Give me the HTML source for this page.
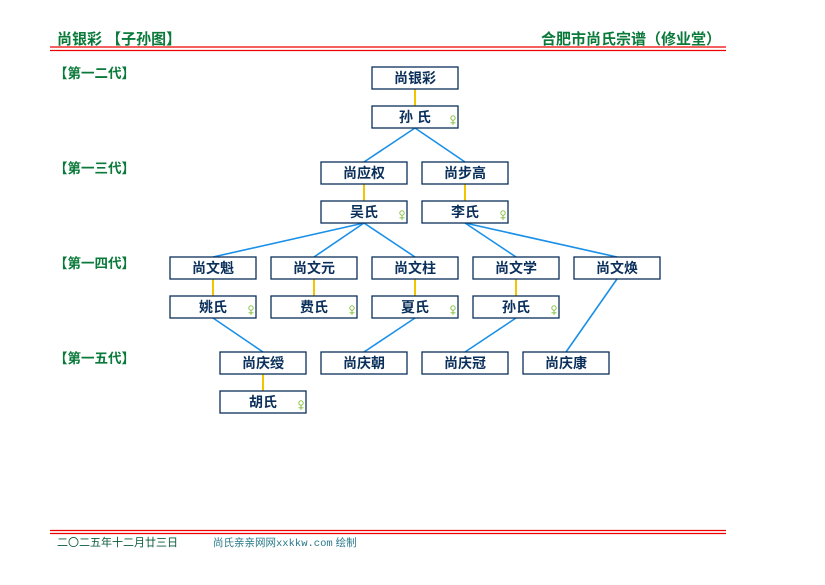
<!DOCTYPE html>
<html><head><meta charset="utf-8"><style>
html,body{margin:0;padding:0;background:#fff;}
svg text{font-family:"Liberation Sans","Noto Sans CJK SC","WenQuanYi Zen Hei",sans-serif;}
</style></head><body>
<svg width="825" height="580" xmlns="http://www.w3.org/2000/svg">
<defs>
<g id="f" stroke="#8bc34a" stroke-width="1" fill="none">
<circle cx="0" cy="-4" r="2.2"/>
<line x1="0" y1="-1.8" x2="0" y2="3"/>
<line x1="-2.5" y1="0.8" x2="2.5" y2="0.8"/>
</g>
</defs>
<text x="57" y="44" font-size="15" font-weight="bold" fill="#0a7a3a">尚银彩 【子孙图】</text>
<text x="721" y="44" font-size="15" font-weight="bold" fill="#0a7a3a" text-anchor="end">合肥市尚氏宗谱（修业堂）</text>
<line x1="50" y1="47" x2="726" y2="47" stroke="#e00" stroke-width="1.2"/>
<line x1="50" y1="50.5" x2="726" y2="50.5" stroke="#e00" stroke-width="1.2"/>
<line x1="50" y1="530.5" x2="726" y2="530.5" stroke="#e00" stroke-width="1.2"/>
<line x1="50" y1="533.5" x2="726" y2="533.5" stroke="#e00" stroke-width="1.2"/>
<text x="57" y="546" font-size="11" fill="#0a5a3a">二〇二五年十二月廿三日</text>
<text x="213" y="546" font-size="10.5" fill="#2a7a8a">尚氏亲亲网网<tspan font-family="Liberation Mono" font-size="10.5">xxkkw.com</tspan> 绘制</text>
<g font-size="13.5" font-weight="bold" fill="#0a7a3a">
<text x="54" y="78">【第一二代】</text>
<text x="54" y="173">【第一三代】</text>
<text x="54" y="268">【第一四代】</text>
<text x="54" y="363">【第一五代】</text>
</g>
<g stroke="#f5c400" stroke-width="2">
<line x1="415" y1="89" x2="415" y2="106"/>
<line x1="364" y1="184" x2="364" y2="201"/>
<line x1="465" y1="184" x2="465" y2="201"/>
<line x1="213" y1="279" x2="213" y2="296"/>
<line x1="314" y1="279" x2="314" y2="296"/>
<line x1="415" y1="279" x2="415" y2="296"/>
<line x1="516" y1="279" x2="516" y2="296"/>
<line x1="263" y1="374" x2="263" y2="391"/>
</g>
<g stroke="#1a90e8" stroke-width="1.6">
<line x1="415" y1="128" x2="364" y2="162"/>
<line x1="415" y1="128" x2="465" y2="162"/>
<line x1="364" y1="223" x2="213" y2="257"/>
<line x1="364" y1="223" x2="314" y2="257"/>
<line x1="364" y1="223" x2="415" y2="257"/>
<line x1="465" y1="223" x2="516" y2="257"/>
<line x1="465" y1="223" x2="617" y2="257"/>
<line x1="213" y1="318" x2="263" y2="352"/>
<line x1="415" y1="318" x2="364" y2="352"/>
<line x1="516" y1="318" x2="465" y2="352"/>
<line x1="617" y1="279" x2="566" y2="352"/>
</g>
<g fill="#fff" stroke="#0a2f5a" stroke-width="1.3">
<rect x="372" y="67" width="86" height="22"/>
<rect x="372" y="106" width="86" height="22"/>
<rect x="321" y="162" width="86" height="22"/>
<rect x="422" y="162" width="86" height="22"/>
<rect x="321" y="201" width="86" height="22"/>
<rect x="422" y="201" width="86" height="22"/>
<rect x="170" y="257" width="86" height="22"/>
<rect x="271" y="257" width="86" height="22"/>
<rect x="372" y="257" width="86" height="22"/>
<rect x="473" y="257" width="86" height="22"/>
<rect x="574" y="257" width="86" height="22"/>
<rect x="170" y="296" width="86" height="22"/>
<rect x="271" y="296" width="86" height="22"/>
<rect x="372" y="296" width="86" height="22"/>
<rect x="473" y="296" width="86" height="22"/>
<rect x="220" y="352" width="86" height="22"/>
<rect x="321" y="352" width="86" height="22"/>
<rect x="422" y="352" width="86" height="22"/>
<rect x="523" y="352" width="86" height="22"/>
<rect x="220" y="391" width="86" height="22"/>
</g>
<g font-size="14" font-weight="bold" fill="#0a2f5a" text-anchor="middle">
<text x="415" y="83">尚银彩</text>
<text x="415" y="122">孙 氏</text>
<text x="364" y="178">尚应权</text>
<text x="465" y="178">尚步高</text>
<text x="364" y="217">吴氏</text>
<text x="465" y="217">李氏</text>
<text x="213" y="273">尚文魁</text>
<text x="314" y="273">尚文元</text>
<text x="415" y="273">尚文柱</text>
<text x="516" y="273">尚文学</text>
<text x="617" y="273">尚文焕</text>
<text x="213" y="312">姚氏</text>
<text x="314" y="312">费氏</text>
<text x="415" y="312">夏氏</text>
<text x="516" y="312">孙氏</text>
<text x="263" y="368">尚庆绶</text>
<text x="364" y="368">尚庆朝</text>
<text x="465" y="368">尚庆冠</text>
<text x="566" y="368">尚庆康</text>
<text x="263" y="407">胡氏</text>
</g>
<use href="#f" x="453" y="122"/>
<use href="#f" x="402" y="217"/>
<use href="#f" x="503" y="217"/>
<use href="#f" x="251" y="312"/>
<use href="#f" x="352" y="312"/>
<use href="#f" x="453" y="312"/>
<use href="#f" x="554" y="312"/>
<use href="#f" x="301" y="407"/>
</svg>
</body></html>
